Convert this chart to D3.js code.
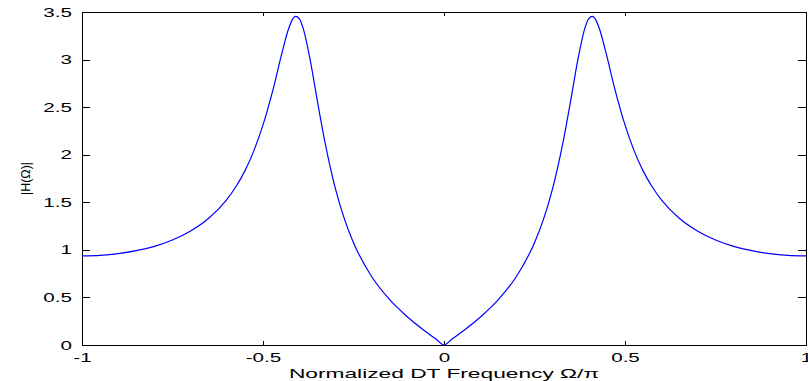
<!DOCTYPE html>
<html>
<head>
<meta charset="utf-8">
<title>|H(Ω)| magnitude response</title>
<script src="https://cdn.jsdelivr.net/npm/d3@7"></script>
<style>
    body { margin: 0; background: #fff; }
    text { font-family: "Liberation Sans", Arial, Helvetica, sans-serif; fill: #000; }
</style>
</head>
<body>
<script>
    // valeurs (fréquence normalisée Ω/π et |H(Ω)|)
    var omega = [-1, -0.95, -0.9, -0.85, -0.8, -0.75, -0.7, -0.65, -0.6, -0.575, -0.55, -0.525,
                 -0.5, -0.47, -0.45, -0.43, -0.42, -0.41, -0.40, -0.39, -0.37, -0.35, -0.33,
                 -0.3, -0.275, -0.25, -0.2, -0.15, -0.1, -0.05, -0.02, 0,
                 0.02, 0.05, 0.1, 0.15, 0.2, 0.25, 0.275, 0.3, 0.33, 0.35, 0.37, 0.39, 0.40,
                 0.41, 0.42, 0.43, 0.45, 0.47, 0.5, 0.525, 0.55, 0.575, 0.6, 0.65, 0.7, 0.75,
                 0.8, 0.85, 0.9, 0.95, 1];
    var magnitude = [0.937, 0.943, 0.960, 0.991, 1.037, 1.104, 1.198, 1.332, 1.529, 1.663, 1.830, 2.043,
                     2.313, 2.719, 3.033, 3.316, 3.412, 3.454, 3.431, 3.341, 3.002, 2.569, 2.153,
                     1.644, 1.323, 1.075, 0.720, 0.476, 0.292, 0.139, 0.055, 0,
                     0.055, 0.139, 0.292, 0.476, 0.720, 1.075, 1.323, 1.644, 2.153, 2.569, 3.002, 3.341, 3.431,
                     3.454, 3.412, 3.316, 3.033, 2.719, 2.313, 2.043, 1.830, 1.663, 1.529, 1.332, 1.198, 1.104,
                     1.037, 0.991, 0.960, 0.943, 0.937];

    var xTicks = [-1, -0.5, 0, 0.5, 1];
    var xTickLabels = ["-1", "-0.5", "0", "0.5", "1"];
    var yTicks = [0, 0.5, 1, 1.5, 2, 2.5, 3, 3.5];
    var yTickLabels = ["0", "0.5", "1", "1.5", "2", "2.5", "3", "3.5"];

    var xLabel = "Normalized DT Frequency \u03A9/\u03C0";
    var yLabel = "|H(\u03A9)|";

    // format du svg + zone de tracé
    var width = 808,
        height = 381,
        plotLeft = 82, plotRight = 806, plotTop = 12, plotBottom = 345,
        stretch = 1.65;   // la figure d'origine est étirée horizontalement

    var svg = d3.select("body").append("svg")
        .attr("width", width)
        .attr("height", height);

    var x = d3.scaleLinear().domain([-1, 1]).range([plotLeft, plotRight]);
    var y = d3.scaleLinear().domain([0, 3.5]).range([plotBottom, plotTop]);

    // axes (graduations vers l'intérieur, comme Matlab)
    var gx = svg.append("g")
        .attr("transform", "translate(0," + plotBottom + ")")
        .call(d3.axisBottom(x).tickValues(xTicks)
            .tickFormat(function(d, i) { return xTickLabels[i]; })
            .tickSizeInner(-4).tickSizeOuter(0).tickPadding(8));
    gx.selectAll("text")
        .attr("transform", "scale(" + stretch + ",1)")
        .style("font-size", "12.5px");

    svg.append("g")
        .attr("transform", "translate(0," + plotTop + ")")
        .call(d3.axisTop(x).tickValues(xTicks).tickFormat("")
            .tickSizeInner(-4).tickSizeOuter(0));

    var gy = svg.append("g")
        .attr("transform", "translate(" + plotLeft + ",0)")
        .call(d3.axisLeft(y).tickValues(yTicks)
            .tickFormat(function(d, i) { return yTickLabels[i]; })
            .tickSizeInner(-8).tickSizeOuter(0).tickPadding(10));
    gy.selectAll("text")
        .attr("x", -10 / stretch)
        .attr("transform", "scale(" + stretch + ",1)")
        .style("font-size", "12.5px");

    svg.append("g")
        .attr("transform", "translate(" + plotRight + ",0)")
        .call(d3.axisRight(y).tickValues(yTicks).tickFormat("")
            .tickSizeInner(-8).tickSizeOuter(0));

    svg.selectAll(".domain").remove();
    svg.selectAll(".tick line").attr("stroke", "#000").attr("shape-rendering", "crispEdges");

    // cadre
    svg.append("rect")
        .attr("x", plotLeft).attr("y", plotTop)
        .attr("width", plotRight - plotLeft).attr("height", plotBottom - plotTop)
        .attr("fill", "none").attr("stroke", "#000")
        .attr("shape-rendering", "crispEdges");

    // courbe
    var data = omega.map(function(w, i) { return [w, magnitude[i]]; });
    var line = d3.line()
        .x(function(d) { return x(d[0]); })
        .y(function(d) { return y(d[1]); })
        .curve(d3.curveMonotoneX);

    svg.append("path")
        .datum(data)
        .attr("d", line)
        .attr("fill", "none")
        .attr("stroke", "#0000ff")
        .attr("stroke-width", 1.2);

    // titres des axes
    svg.append("text")
        .attr("transform", "translate(" + ((plotLeft + plotRight) / 2) + ",378) scale(1.82,1)")
        .attr("text-anchor", "middle")
        .style("font-size", "12.5px")
        .text(xLabel);

    svg.append("text")
        .attr("transform", "translate(26," + y(1.75) + ") rotate(-90)")
        .attr("dy", "0.35em")
        .attr("text-anchor", "middle")
        .style("font-size", "12.5px")
        .text(yLabel);
</script>
</body>
</html>
